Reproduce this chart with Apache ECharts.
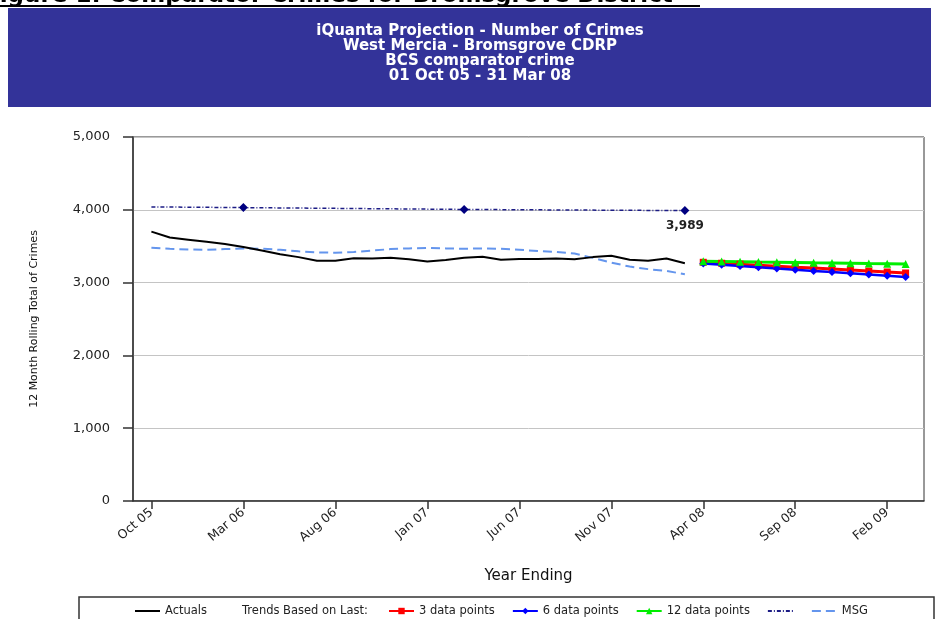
<!DOCTYPE html>
<html>
<head>
<meta charset="utf-8">
<title>Comparator Crimes for Bromsgrove District</title>
<script src="https://cdn.jsdelivr.net/npm/echarts@6/dist/echarts.min.js"></script>
<style>
  html, body { margin: 0; padding: 0; background: #fff; }
  #main { width: 944px; height: 619px; }
</style>
</head>
<body>
<div id="main"></div>
<script>
// x axis months (Sep 05 and Apr 09 are the empty ends of the axis)
const months = [
  'Sep 05', 'Oct 05', 'Nov 05', 'Dec 05',
  'Jan 06', 'Feb 06', 'Mar 06', 'Apr 06', 'May 06', 'Jun 06', 'Jul 06', 'Aug 06', 'Sep 06', 'Oct 06', 'Nov 06', 'Dec 06',
  'Jan 07', 'Feb 07', 'Mar 07', 'Apr 07', 'May 07', 'Jun 07', 'Jul 07', 'Aug 07', 'Sep 07', 'Oct 07', 'Nov 07', 'Dec 07',
  'Jan 08', 'Feb 08', 'Mar 08', 'Apr 08', 'May 08', 'Jun 08', 'Jul 08', 'Aug 08', 'Sep 08', 'Oct 08', 'Nov 08', 'Dec 08',
  'Jan 09', 'Feb 09', 'Mar 09', 'Apr 09'
]
// months that get a tick and a label
const tickMonths = ['Oct 05', 'Mar 06', 'Aug 06', 'Jan 07', 'Jun 07', 'Nov 07', 'Apr 08', 'Sep 08', 'Feb 09']

// actuals, Oct 05 - Mar 08
const actuals = [
  3700, 3620, 3590, 3560, 3530, 3490, 3440, 3390, 3350, 3300,
  3300, 3335, 3330, 3340, 3320, 3290, 3310, 3340, 3355, 3315,
  3325, 3325, 3330, 3320, 3350, 3370, 3315, 3300, 3330, 3265
]
// MSG (light blue dashed), Oct 05 - Mar 08
const msg = [
  3480, 3465, 3455, 3450, 3460, 3470, 3465, 3450, 3430, 3415,
  3410, 3420, 3440, 3460, 3470, 3475, 3470, 3465, 3470, 3465,
  3450, 3435, 3420, 3400, 3340, 3275, 3220, 3185, 3160, 3115
]
// navy dash-dot line and its markers
const targetMonths = ['Oct 05', 'Mar 06', 'Mar 07', 'Mar 08']
const targetValues = [4040, 4030, 4005, 3989]

// projections, Apr 08 - Mar 09
const trend3 = [3279, 3266, 3253, 3239, 3226, 3212, 3199, 3186, 3172, 3159, 3146, 3132]
const trend6 = [3262, 3245, 3228, 3211, 3194, 3178, 3161, 3144, 3127, 3110, 3094, 3077]
const trend12 = [3292, 3289, 3286, 3282, 3279, 3276, 3272, 3269, 3266, 3262, 3259, 3256]

const FONT = "'DejaVu Sans', sans-serif"

// put a run of values on the month axis, starting at a given month
function place(startMonth, values) {
  let arr = months.map(() => null)
  let s = months.indexOf(startMonth)
  values.forEach((v, i) => { arr[s + i] = v })
  return arr
}

function targetData() {
  let arr = months.map(() => null)
  targetMonths.forEach((m, i) => {
    let item = { value: targetValues[i], symbol: i === 0 ? 'none' : 'diamond' }
    if (i === targetMonths.length - 1) {
      item.label = {
        show: true, position: 'bottom', distance: 5,
        fontFamily: FONT, fontSize: 12, fontWeight: 'bold', color: '#222',
        formatter: p => p.value.toLocaleString('en-US')
      }
    }
    arr[months.indexOf(m)] = item
  })
  return arr
}

const showTick = (index, value) => tickMonths.indexOf(value) !== -1
// legend entries drawn as a plain line (no marker)
const lineOnly = name => ({ name: name, itemStyle: { opacity: 0 } })

var chart = echarts.init(document.getElementById('main'), null, { renderer: 'canvas' })

var option = {
  animation: false,
  backgroundColor: '#fff',
  textStyle: { fontFamily: FONT },
  grid: {
    left: 133, right: 20, top: 137, bottom: 118,
    show: true, borderColor: '#333', borderWidth: 1
  },
  xAxis: {
    type: 'category',
    data: months,
    boundaryGap: false,
    name: 'Year Ending',
    nameLocation: 'middle',
    nameGap: 68,
    nameTextStyle: { fontFamily: FONT, fontSize: 15, color: '#111' },
    axisLine: { lineStyle: { color: '#333', width: 1.5 } },
    axisTick: { interval: showTick, length: 8, lineStyle: { color: '#333', width: 1.5 } },
    axisLabel: {
      interval: showTick, rotate: 40, margin: 10,
      fontFamily: FONT, fontSize: 12.5, color: '#222'
    },
    splitLine: { show: false }
  },
  yAxis: {
    type: 'value',
    min: 0, max: 5000, interval: 1000,
    name: '12 Month Rolling Total of Crimes',
    nameLocation: 'middle',
    nameGap: 93,
    nameTextStyle: { fontFamily: FONT, fontSize: 11, color: '#111' },
    axisLine: { show: true, lineStyle: { color: '#333', width: 1.5 } },
    axisTick: { show: true, length: 10, lineStyle: { color: '#333', width: 1.5 } },
    axisLabel: {
      margin: 23, fontFamily: FONT, fontSize: 13, color: '#222',
      formatter: v => v.toLocaleString('en-US')
    },
    splitLine: { lineStyle: { color: '#c4c4c4', width: 1 } }
  },
  legend: [
    {
      data: [lineOnly('Actuals')],
      left: 134, top: 605, padding: 0,
      itemWidth: 25, itemHeight: 8,
      textStyle: { fontFamily: FONT, fontSize: 11.5, color: '#222' }
    },
    {
      data: ['3 data points', '6 data points', '12 data points', lineOnly('Target'), lineOnly('MSG')],
      left: 388, top: 605, padding: 0, itemGap: 17,
      itemWidth: 25, itemHeight: 8,
      formatter: name => name === 'Target' ? '' : name,
      textStyle: { fontFamily: FONT, fontSize: 11.5, color: '#222' }
    }
  ],
  graphic: [
    // cut-off figure heading
    {
      type: 'text', x: -16, y: 8,
      style: {
        text: 'Figure 1: Comparator Crimes for Bromsgrove District',
        fontFamily: FONT, fontSize: 23, fontWeight: 'bold', fill: '#000',
        verticalAlign: 'bottom'
      }
    },
    { type: 'line', shape: { x1: 0, y1: 6, x2: 700, y2: 6 }, style: { stroke: '#000', lineWidth: 2 } },
    // title band
    { type: 'rect', shape: { x: 8, y: 8, width: 923, height: 99 }, style: { fill: '#333399' } },
    {
      type: 'text', x: 480, y: 24,
      style: {
        text: 'iQuanta Projection - Number of Crimes\nWest Mercia - Bromsgrove CDRP\nBCS comparator crime\n01 Oct 05 - 31 Mar 08',
        fontFamily: FONT, fontSize: 15, fontWeight: 'bold', fill: '#fff',
        align: 'center', verticalAlign: 'top', lineHeight: 15
      }
    },
    // legend frame and its caption
    { type: 'rect', shape: { x: 79, y: 597, width: 855, height: 40 }, style: { fill: 'none', stroke: '#333', lineWidth: 1.5 } },
    {
      type: 'text', x: 242, y: 611,
      style: {
        text: 'Trends Based on Last:', fontFamily: FONT, fontSize: 11.5, fill: '#222',
        verticalAlign: 'middle'
      }
    }
  ],
  series: [
    {
      name: 'MSG', type: 'line', data: place('Oct 05', msg),
      symbol: 'none', lineStyle: { color: '#6495ED', width: 2, type: [9, 5] },
      itemStyle: { color: '#6495ED' }
    },
    {
      name: 'Actuals', type: 'line', data: place('Oct 05', actuals),
      symbol: 'none', lineStyle: { color: '#000', width: 2 },
      itemStyle: { color: '#000' }
    },
    {
      name: 'Target', type: 'line', data: targetData(), connectNulls: true,
      symbol: 'none', symbolSize: 9,
      lineStyle: { color: '#1c1c85', width: 1.5, type: [4, 2, 1, 2] },
      itemStyle: { color: '#000080' }
    },
    {
      name: '3 data points', type: 'line', data: place('Apr 08', trend3),
      symbol: 'rect', symbolSize: 7, showAllSymbol: true,
      lineStyle: { color: '#ff0000', width: 3 }, itemStyle: { color: '#ff0000' }
    },
    {
      name: '6 data points', type: 'line', data: place('Apr 08', trend6),
      symbol: 'diamond', symbolSize: 8, showAllSymbol: true,
      lineStyle: { color: '#0000ff', width: 2.5 }, itemStyle: { color: '#0000ff' }
    },
    {
      name: '12 data points', type: 'line', data: place('Apr 08', trend12),
      symbol: 'triangle', symbolSize: 8, showAllSymbol: true,
      lineStyle: { color: '#00ee00', width: 3 }, itemStyle: { color: '#00ee00' }
    }
  ]
}

chart.setOption(option)
</script>
</body>
</html>
